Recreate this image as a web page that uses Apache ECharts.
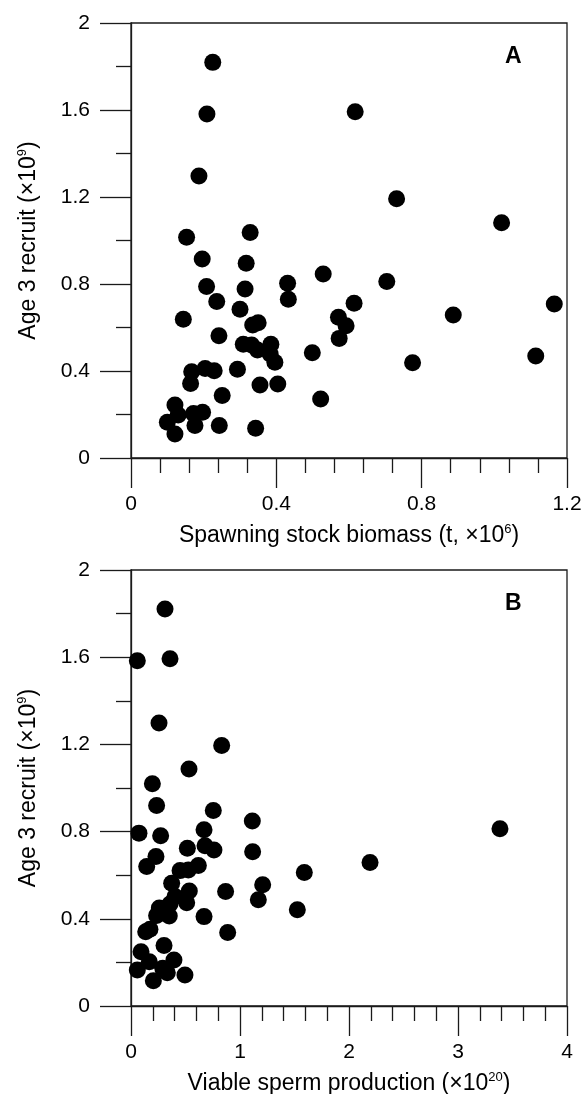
<!DOCTYPE html>
<html><head><meta charset="utf-8">
<script src="https://cdn.jsdelivr.net/npm/echarts@6/dist/echarts.min.js"></script>
<style>html,body{margin:0;padding:0;background:#fff}#c{width:586px;height:1094px}</style>
</head><body><div id="c"></div><script>
// Panel A: spawning stock biomass (t, x10^6) vs age 3 recruit (x10^9)
const ssbA = [0.225,0.209,0.617,0.187,0.153,0.328,0.731,1.020,0.196,0.317,0.208,0.314,0.431,0.529,0.236,0.433,0.300,0.144,0.350,0.335,0.242,0.309,0.332,0.348,0.385,0.383,0.396,0.293,0.167,0.204,0.229,0.164,0.355,0.404,0.251,0.121,0.100,0.130,0.121,0.172,0.197,0.176,0.243,0.343,0.499,0.522,0.571,0.592,0.573,0.614,0.704,0.887,0.775,1.165,1.114];
const recruitA = [1.819,1.582,1.592,1.297,1.015,1.037,1.192,1.082,0.915,0.895,0.788,0.777,0.803,0.846,0.720,0.730,0.684,0.638,0.622,0.611,0.562,0.523,0.520,0.497,0.523,0.478,0.440,0.408,0.397,0.412,0.401,0.343,0.336,0.340,0.287,0.244,0.164,0.198,0.110,0.205,0.210,0.149,0.149,0.137,0.484,0.271,0.647,0.608,0.550,0.711,0.811,0.657,0.438,0.708,0.469];
// Panel B: viable sperm production (x10^20) vs age 3 recruit (x10^9)
const spermB = [0.312,0.058,0.358,0.257,0.832,0.532,0.196,0.235,0.755,1.113,0.073,0.272,0.670,0.517,0.679,0.761,1.116,0.229,0.144,0.450,0.526,0.618,1.590,0.373,1.208,0.868,0.535,0.404,0.511,0.358,0.260,0.235,0.351,0.670,1.168,1.526,0.135,0.174,0.887,0.303,0.092,0.168,0.058,0.205,0.291,0.333,0.394,0.495,3.385,2.193];
const recruitB = [1.821,1.584,1.593,1.298,1.195,1.087,1.019,0.920,0.897,0.849,0.793,0.781,0.808,0.724,0.735,0.716,0.708,0.686,0.640,0.621,0.624,0.644,0.612,0.563,0.556,0.525,0.528,0.502,0.474,0.468,0.449,0.415,0.413,0.410,0.487,0.441,0.341,0.352,0.337,0.277,0.249,0.203,0.165,0.116,0.173,0.153,0.211,0.142,0.813,0.658];
const panelLabels = ['A','B'];

const FONT = '"Liberation Sans", Arial, sans-serif';
const INK = '#1a1a1a';
const pts = (xs, ys) => xs.map((x, i) => [x, ys[i]]);

function xAx(gi, max, interval, nameParts) {
  return {
    type: 'value', gridIndex: gi, min: 0, max: max, interval: interval,
    position: 'bottom',
    axisLine: {show: true, onZero: false, lineStyle: {color: INK, width: 1.3}},
    axisTick: {show: true, inside: false, length: 30, lineStyle: {color: INK, width: 1.3}},
    minorTick: {show: true, splitNumber: 5, length: 15, lineStyle: {color: INK, width: 1.3}},
    splitLine: {show: false}, minorSplitLine: {show: false},
    axisLabel: {margin: 36, fontSize: 21, color: '#000', fontFamily: FONT},
    name: '{n|' + nameParts[0] + '}{s|' + nameParts[1] + '}{n|)}',
    nameLocation: 'middle', nameGap: 65,
    nameTextStyle: {fontFamily: FONT, color: '#000', rich: {
      n: {fontSize: 23, lineHeight: 26, fontFamily: FONT, color: '#000'},
      s: {fontSize: 13, lineHeight: 26, verticalAlign: 'top', fontFamily: FONT, color: '#000'}
    }}
  };
}
function yAx(gi) {
  return {
    type: 'value', gridIndex: gi, min: 0, max: 2, interval: 0.4,
    axisLine: {show: true, onZero: false, lineStyle: {color: INK, width: 1.3}},
    axisTick: {show: true, inside: false, length: 31, lineStyle: {color: INK, width: 1.3}},
    minorTick: {show: true, splitNumber: 2, length: 15, lineStyle: {color: INK, width: 1.3}},
    splitLine: {show: false}, minorSplitLine: {show: false},
    axisLabel: {margin: 41, fontSize: 21, color: '#000', fontFamily: FONT},
    name: '{n|Age 3 recruit (×10}{s|9}{n|)}',
    nameLocation: 'middle', nameGap: 89, nameRotate: 90,
    nameTextStyle: {fontFamily: FONT, color: '#000', rich: {
      n: {fontSize: 23, lineHeight: 26, fontFamily: FONT, color: '#000'},
      s: {fontSize: 13, lineHeight: 26, verticalAlign: 'top', fontFamily: FONT, color: '#000'}
    }}
  };
}

const chart = echarts.init(document.getElementById('c'), null, {renderer: 'canvas'});
chart.setOption({
  animation: false,
  backgroundColor: '#fff',
  grid: [
    {left: 131, top: 23, width: 436, height: 435, show: true, borderColor: INK, borderWidth: 1.3, containLabel: false, outerBoundsMode: 'none'},
    {left: 131, top: 570, width: 436, height: 436, show: true, borderColor: INK, borderWidth: 1.3, containLabel: false, outerBoundsMode: 'none'}
  ],
  xAxis: [
    xAx(0, 1.2, 0.4, ['Spawning stock biomass (t, ×10', '6']),
    xAx(1, 4, 1, ['Viable sperm production (×10', '20'])
  ],
  yAxis: [yAx(0), yAx(1)],
  graphic: [
    {type: 'text', left: 505, top: 45, style: {text: panelLabels[0], fontSize: 23, fontWeight: 'bold', fontFamily: FONT, fill: '#000'}},
    {type: 'text', left: 505, top: 592, style: {text: panelLabels[1], fontSize: 23, fontWeight: 'bold', fontFamily: FONT, fill: '#000'}}
  ],
  series: [
    {type: 'scatter', xAxisIndex: 0, yAxisIndex: 0, data: pts(ssbA, recruitA), symbol: 'circle', symbolSize: 17, itemStyle: {color: '#000', opacity: 1}},
    {type: 'scatter', xAxisIndex: 1, yAxisIndex: 1, data: pts(spermB, recruitB), symbol: 'circle', symbolSize: 17, itemStyle: {color: '#000', opacity: 1}}
  ]
});
</script></body></html>
